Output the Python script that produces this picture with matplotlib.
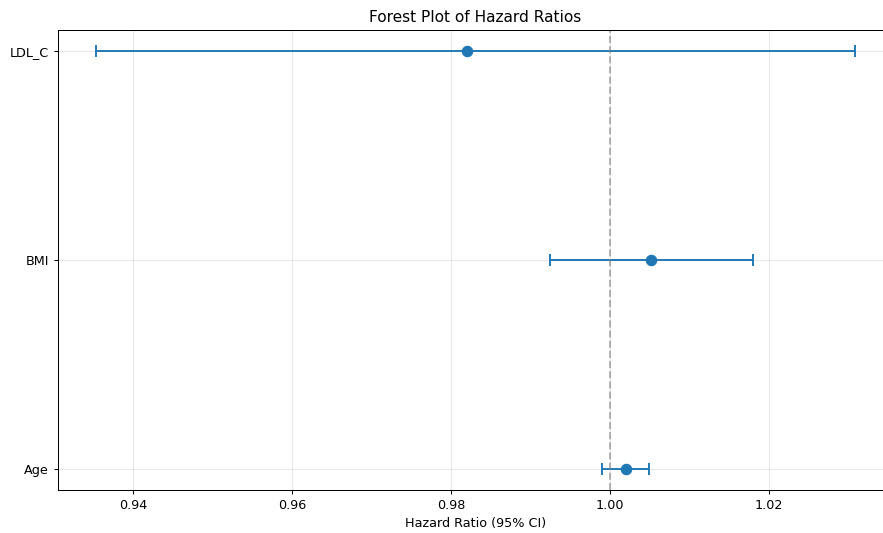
import matplotlib.pyplot as plt

variables = ['Age', 'BMI', 'LDL_C']
hazard_ratios = [1.0020, 1.0052, 0.9820]
ci_lower = [0.9990, 0.99245, 0.93535]
ci_upper = [1.0049, 1.0180, 1.0308]

err_low = [hr - lo for hr, lo in zip(hazard_ratios, ci_lower)]
err_high = [hi - hr for hr, hi in zip(hazard_ratios, ci_upper)]
y_pos = list(range(len(variables)))

fig = plt.figure(figsize=(884 / 92, 533 / 92), dpi=92)
ax = fig.add_axes([58 / 884, 1 - 490 / 533, 835 / 884, 460 / 533])

ax.errorbar(hazard_ratios, y_pos, xerr=[err_low, err_high], fmt='o',
            color='#1f77b4', markersize=8, capsize=5, elinewidth=1.5,
            capthick=1.5)
ax.axvline(x=1.0, color='gray', linestyle='--', alpha=0.6)

ax.set_yticks(y_pos)
ax.set_yticklabels(variables)
ax.set_xlabel('Hazard Ratio (95% CI)')
ax.set_title('Forest Plot of Hazard Ratios')
ax.grid(True, alpha=0.3)

fig.savefig('out.png', dpi=92)
